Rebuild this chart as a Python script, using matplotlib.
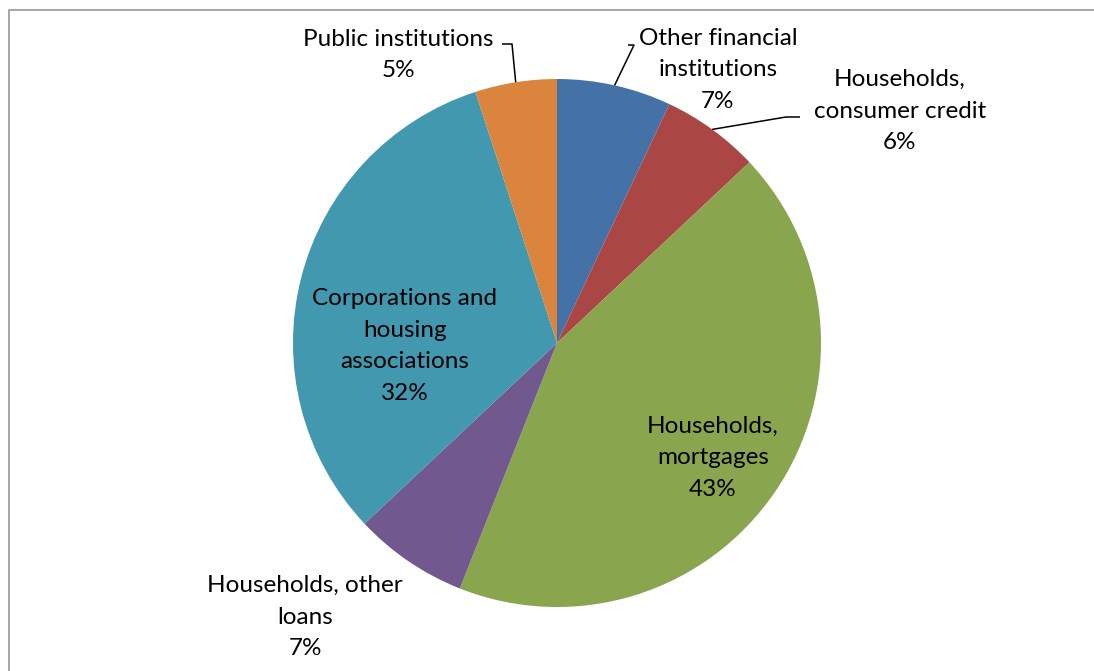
import numpy as np
import matplotlib
matplotlib.use("Agg")
import matplotlib.pyplot as plt

# loan portfolio split by borrower group, per cent
labels = [
    "Other financial\ninstitutions",
    "Households,\nconsumer credit",
    "Households,\nmortgages",
    "Households, other\nloans",
    "Corporations and\nhousing\nassociations",
    "Public institutions",
]
shares = [7, 6, 43, 7, 32, 5]
colors = ["#4572A6", "#AA4744", "#89A54E", "#71588F", "#4198AF", "#DB843D"]

W, H = 1094, 671
plt.rcParams["font.family"] = ["Lato", "DejaVu Sans"]

fig = plt.figure(figsize=(W / 100, H / 100), dpi=100)
ax = fig.add_axes([0, 0, 1, 1])

cx, cy, r = 557, H - 343, 264
wedges, _ = ax.pie(shares, colors=colors, startangle=90, counterclock=False,
                   center=(cx, cy), radius=r, wedgeprops=dict(linewidth=0))
ax.set_xlim(0, W)
ax.set_ylim(0, H)
ax.set_aspect("equal")
ax.axis("off")

# label centres in pixel coords (y from top)
label_pos = [(718, 70), (900, 111), (713, 458), (305, 617), (405, 346), (398, 55)]
# leader elbows: (text end x, text end y, elbow x)
leaders = {0: (628, 45, 634), 1: (800, 117, 786), 5: (502, 44, 512)}

for i, (w, lab, val) in enumerate(zip(wedges, labels, shares)):
    x, y = label_pos[i]
    ax.text(x, H - y, f"{lab}\n{val}%", ha="center", va="center",
            fontsize=17.5, linespacing=1.63, color="black")
    if i in leaders:
        tx, ty, ex = leaders[i]
        mid = np.deg2rad((w.theta1 + w.theta2) / 2)
        px, py = cx + r * np.cos(mid), cy + r * np.sin(mid)
        ax.plot([tx, ex, px], [H - ty, H - ty, py], color="black", lw=1.1,
                solid_capstyle="butt")

# chart area frame (left and top edges)
ax.plot([9, 9, W], [0, H - 10, H - 10], color="#A6A6A6", lw=1.4,
        clip_on=False)

fig.savefig("out.png", dpi=100)
